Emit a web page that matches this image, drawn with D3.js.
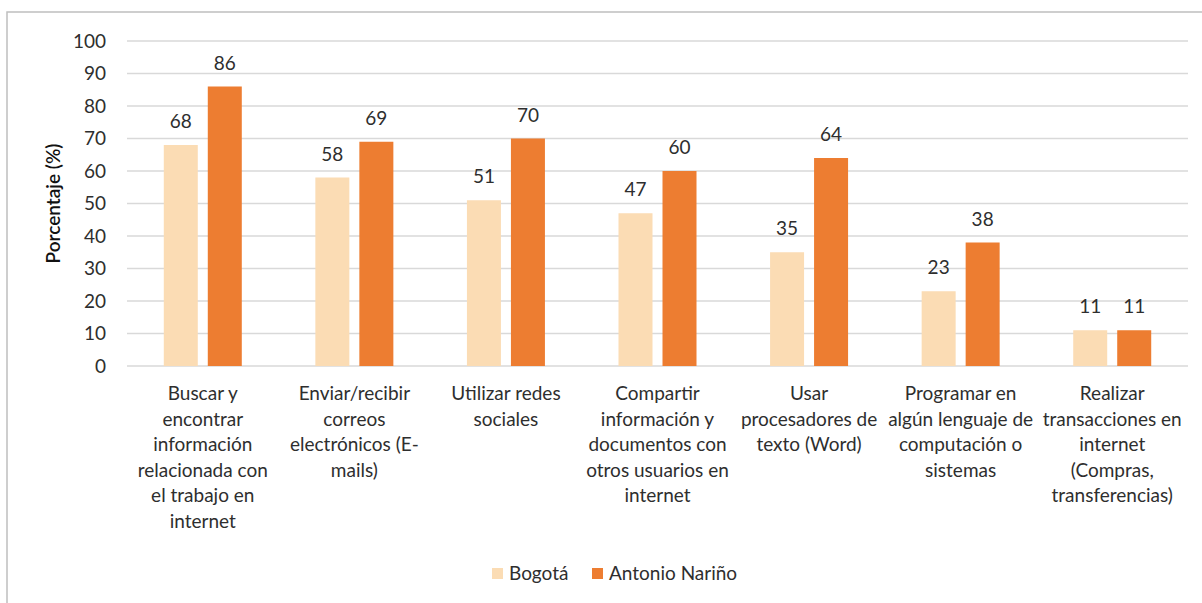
<!DOCTYPE html>
<html>
<head>
<meta charset="utf-8">
<script src="https://cdn.jsdelivr.net/npm/d3@7"></script>
<style>
  html, body { margin: 0; padding: 0; background: #fff; }
  svg { display: block; }
  text { font-family: Lato, "Open Sans", sans-serif; fill: #2e2e2e; }
</style>
</head>
<body>
<svg id="chart" width="1202" height="603"></svg>
<script>
// Categories (each label split into its display lines)
const categories = [
  ["Buscar y", "encontrar", "información", "relacionada con", "el trabajo en", "internet"],
  ["Enviar/recibir", "correos", "electrónicos (E-", "mails)"],
  ["Utilizar redes", "sociales"],
  ["Compartir", "información y", "documentos con", "otros usuarios en", "internet"],
  ["Usar", "procesadores de", "texto (Word)"],
  ["Programar en", "algún lenguaje de", "computación o", "sistemas"],
  ["Realizar", "transacciones en", "internet", "(Compras,", "transferencias)"]
];
const seriesNames = ["Bogotá", "Antonio Nariño"];
const bogota = [68, 58, 51, 47, 35, 23, 11];
const antonioNarino = [86, 69, 70, 60, 64, 38, 11];
const yTicks = [0, 10, 20, 30, 40, 50, 60, 70, 80, 90, 100];
const colors = ["#FBDCB4", "#ED7D31"];

const svg = d3.select("#chart");
const W = 1202, H = 603;
const plot = { left: 127, right: 1188, top: 41, bottom: 366 };
const fs = "19px";

// Outer chart frame
svg.append("rect")
  .attr("x", 7).attr("y", 12)
  .attr("width", W + 10).attr("height", H + 10)
  .attr("fill", "none").attr("stroke", "#bfbfbf").attr("stroke-width", 1.5);

const idx = d3.range(categories.length);
const x0 = d3.scaleBand().domain(idx).range([plot.left, plot.right]).paddingInner(0).paddingOuter(0);
const y = d3.scaleLinear().domain([0, 100]).range([plot.bottom, plot.top]);

// Gridlines
svg.append("g").selectAll("line").data(yTicks).join("line")
  .attr("x1", plot.left).attr("x2", plot.right)
  .attr("y1", d => y(d)).attr("y2", d => y(d))
  .attr("stroke", "#d9d9d9").attr("stroke-width", 1.5);

// Y axis tick labels
const yAxis = d3.axisLeft(y).tickValues(yTicks).tickSize(0).tickPadding(0);
const gy = svg.append("g").attr("transform", `translate(${plot.left - 21},0)`).call(yAxis);
gy.select(".domain").remove();
gy.selectAll("text")
  .style("font-family", "Lato, 'Open Sans', sans-serif")
  .style("font-size", fs).style("fill", "#2e2e2e").attr("dy", "0.34em");

// Y axis title
svg.append("text")
  .attr("transform", `translate(60,${(plot.top + plot.bottom) / 2}) rotate(-90)`)
  .attr("text-anchor", "middle")
  .style("font-size", "19px").style("font-weight", 600).style("fill", "#111")
  .text("Porcentaje (%)");

// Bars
const barW = 34, gap = 10;
const series = [bogota, antonioNarino];
const offsets = [-(gap / 2 + barW), gap / 2];
series.forEach((vals, s) => {
  const g = svg.append("g");
  g.selectAll("rect").data(vals).join("rect")
    .attr("x", (d, i) => x0(i) + x0.bandwidth() / 2 + offsets[s])
    .attr("y", d => y(d))
    .attr("width", barW)
    .attr("height", d => y(0) - y(d))
    .attr("fill", colors[s]);
  g.selectAll("text").data(vals).join("text")
    .attr("x", (d, i) => x0(i) + x0.bandwidth() / 2 + offsets[s] + barW / 2)
    .attr("y", d => y(d) - 17)
    .attr("text-anchor", "middle")
    .style("font-size", fs)
    .text(d => d);
});

// Category labels
const xl = svg.append("g");
categories.forEach((lines, i) => {
  const t = xl.append("text")
    .attr("text-anchor", "middle")
    .style("font-size", fs);
  lines.forEach((ln, k) => {
    t.append("tspan")
      .attr("x", x0(i) + x0.bandwidth() / 2)
      .attr("y", 400 + k * 25.5)
      .text(ln);
  });
});

// Legend
const legend = svg.append("g");
const legendItems = [{ x: 492, name: seriesNames[0] }, { x: 592, name: seriesNames[1] }];
legendItems.forEach((it, s) => {
  legend.append("rect").attr("x", it.x).attr("y", 568).attr("width", 11).attr("height", 11).attr("fill", colors[s]);
  legend.append("text").attr("x", it.x + 17).attr("y", 580)
    .style("font-size", fs).text(it.name);
});
</script>
</body>
</html>
